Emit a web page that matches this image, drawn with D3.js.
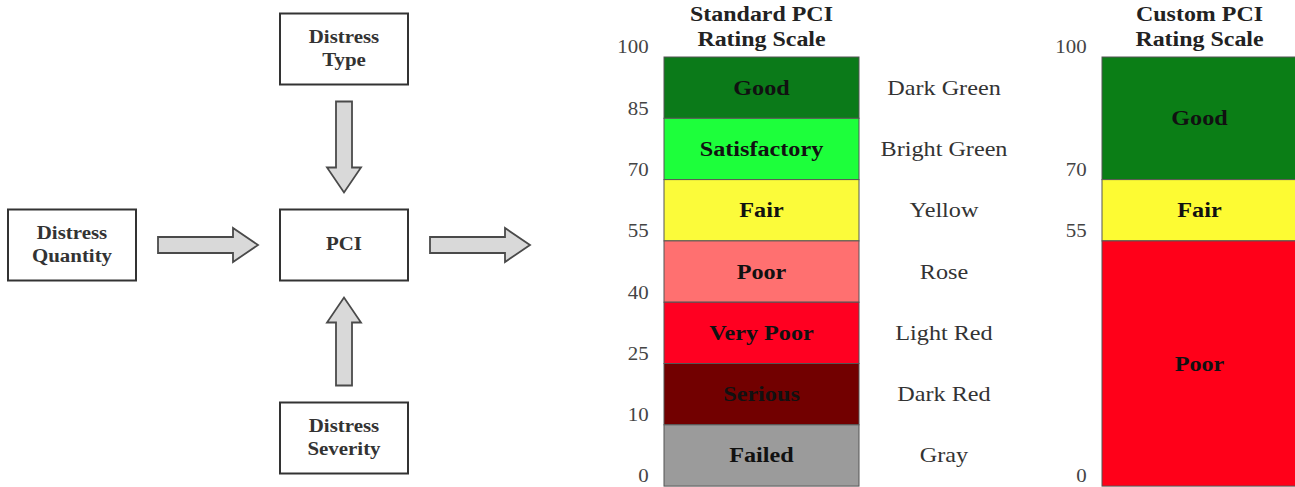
<!DOCTYPE html>
<html>
<head>
<meta charset="utf-8">
<script src="https://cdn.jsdelivr.net/npm/d3@7"></script>
<style>
  body { margin: 0; background: #fff; }
  svg text { font-family: "Liberation Serif", "DejaVu Serif", serif; }
</style>
</head>
<body>
<div id="chart"></div>
<script>
// Flow chart data
const flowNodes = [
    { id: "type", lines: ["Distress", "Type"], col: 1, row: 0 },
    { id: "quantity", lines: ["Distress", "Quantity"], col: 0, row: 1 },
    { id: "pci", lines: ["PCI"], col: 1, row: 1 },
    { id: "severity", lines: ["Distress", "Severity"], col: 1, row: 2 },
    { id: "out", lines: [], col: 2, row: 1 }
];
const flowEdges = [
    ["type", "pci"],
    ["quantity", "pci"],
    ["severity", "pci"],
    ["pci", "out"]
];

// Rating scales
const stdBounds = [100, 85, 70, 55, 40, 25, 10, 0];
const stdRatings = ["Good", "Satisfactory", "Fair", "Poor", "Very Poor", "Serious", "Failed"];
const stdColorNames = ["Dark Green", "Bright Green", "Yellow", "Rose", "Light Red", "Dark Red", "Gray"];
const customBounds = [100, 70, 55, 0];
const customRatings = ["Good", "Fair", "Poor"];

const width = 1295, height = 487;
const sx = 1.1; // the source art is a bit wider than Times

const svg = d3.select("#chart")
    .append("svg")
    .attr("width", width)
    .attr("height", height);

// ---------- flow chart ----------
const colX = d3.scaleLinear().domain([0, 2]).range([72, 616]);
const rowY = d3.scaleLinear().domain([0, 1, 2]).range([49, 245, 438]);
const boxW = 128, boxH = 71;
const gapX = 22, gapY = 17;
const shaft = 8, head = 17, headLen = 25;

const nodeById = new Map(flowNodes.map(d => [d.id, d]));

// arrow polygon pointing along +x, from 0 to len
function arrowPath(len) {
    return [
        [0, -shaft], [len - headLen, -shaft], [len - headLen, -head],
        [len, 0], [len - headLen, head], [len - headLen, shaft], [0, shaft]
    ];
}

const flow = svg.append("g").attr("class", "flow");

flowEdges.forEach(([s, t]) => {
    const a = nodeById.get(s), b = nodeById.get(t);
    const ax = colX(a.col), ay = rowY(a.row), bx = colX(b.col), by = rowY(b.row);
    let x0, y0, len, angle;
    if (ay === by) {
        const dir = Math.sign(bx - ax);
        x0 = ax + dir * (boxW / 2 + gapX);
        const x1 = bx - dir * (boxW / 2 + gapX);
        y0 = ay;
        len = Math.abs(x1 - x0);
        angle = dir > 0 ? 0 : 180;
    } else {
        const dir = Math.sign(by - ay);
        x0 = ax;
        y0 = ay + dir * (boxH / 2 + gapY);
        const y1 = by - dir * (boxH / 2 + gapY);
        len = Math.abs(y1 - y0);
        angle = dir > 0 ? 90 : -90;
    }
    flow.append("polygon")
        .attr("points", arrowPath(len).map(p => p.join(",")).join(" "))
        .attr("transform", `translate(${x0},${y0}) rotate(${angle})`)
        .attr("fill", "#d9d9d9")
        .attr("stroke", "#4a4a4a")
        .attr("stroke-width", 1.8)
        .attr("stroke-linejoin", "miter");
});

const boxes = flow.selectAll(".box")
    .data(flowNodes.filter(d => d.lines.length))
    .enter()
    .append("g")
    .attr("class", "box")
    .attr("transform", d => `translate(${colX(d.col)},${rowY(d.row)})`);

boxes.append("rect")
    .attr("x", -boxW / 2)
    .attr("y", -boxH / 2)
    .attr("width", boxW)
    .attr("height", boxH)
    .attr("fill", "#fff")
    .attr("stroke", "#333")
    .attr("stroke-width", 2);

boxes.each(function (d) {
    const n = d.lines.length;
    d3.select(this).selectAll("text")
        .data(d.lines)
        .enter()
        .append("text")
        .attr("text-anchor", "middle")
        .attr("transform", (l, i) => `translate(0,${(i - (n - 1) / 2) * 23 + 5}) scale(${sx},1)`)
        .attr("font-size", 19)
        .attr("font-weight", "bold")
        .attr("fill", "#333")
        .text(l => l);
});

// ---------- rating scales ----------
const barTop = 57, step = 61.3;
const y = d3.scaleLinear()
    .domain(stdBounds)
    .range(stdBounds.map((d, i) => barTop + i * step));

const fillColor = {
    standard: d3.scaleOrdinal().domain(stdRatings)
        .range(["#0b7a19", "#1dff3b", "#fbfb3a", "#ff7070", "#ff0021", "#720000", "#9b9b9b"]),
    custom: d3.scaleOrdinal().domain(customRatings)
        .range(["#0b7e16", "#fdfb33", "#ff0019"])
};

function drawScale(opts) {
    const { x0, barW, bounds, ratings, colors, title, names } = opts;
    const g = svg.append("g");
    const segs = ratings.map((r, i) => ({ name: r, hi: bounds[i], lo: bounds[i + 1] }));
    const midY = d => (y(d.hi) + y(d.lo)) / 2 + 7;

    g.selectAll(".seg")
        .data(segs)
        .enter()
        .append("rect")
        .attr("class", "seg")
        .attr("x", x0)
        .attr("y", d => y(d.hi))
        .attr("width", barW)
        .attr("height", d => y(d.lo) - y(d.hi))
        .attr("fill", d => colors(d.name))
        .attr("stroke", "#555")
        .attr("stroke-width", 1);

    g.selectAll(".seg-label")
        .data(segs)
        .enter()
        .append("text")
        .attr("transform", d => `translate(${x0 + barW / 2},${midY(d)}) scale(${sx},1)`)
        .attr("text-anchor", "middle")
        .attr("font-size", 22)
        .attr("font-weight", "bold")
        .attr("fill", "#111")
        .text(d => d.name);

    if (names) {
        g.selectAll(".color-name")
            .data(segs)
            .enter()
            .append("text")
            .attr("transform", d => `translate(${x0 + barW + 85},${midY(d)}) scale(${sx},1)`)
            .attr("text-anchor", "middle")
            .attr("font-size", 22)
            .attr("fill", "#333")
            .text((d, i) => names[i]);
    }

    // axis: labels sit just above each boundary
    const axis = g.append("g")
        .attr("transform", `translate(${x0 - 12},0)`)
        .call(d3.axisLeft(y).tickValues(bounds).tickSize(0).tickPadding(3));
    axis.select(".domain").remove();
    axis.selectAll("text")
        .attr("dy", "-0.22em")
        .attr("transform", `scale(${sx},1)`)
        .attr("font-size", 19)
        .attr("font-family", "Liberation Serif")
        .attr("fill", "#444");

    g.selectAll(".title")
        .data(title)
        .enter()
        .append("text")
        .attr("transform", (d, i) => `translate(${x0 + barW / 2},${21 + i * 25}) scale(1.14,1)`)
        .attr("text-anchor", "middle")
        .attr("font-size", 21)
        .attr("font-weight", "bold")
        .attr("fill", "#222")
        .text(d => d);
}

drawScale({
    x0: 664, barW: 195,
    bounds: stdBounds, ratings: stdRatings, colors: fillColor.standard,
    title: ["Standard PCI", "Rating Scale"], names: stdColorNames
});

drawScale({
    x0: 1102, barW: 195,
    bounds: customBounds, ratings: customRatings, colors: fillColor.custom,
    title: ["Custom PCI", "Rating Scale"]
});
</script>
</body>
</html>
